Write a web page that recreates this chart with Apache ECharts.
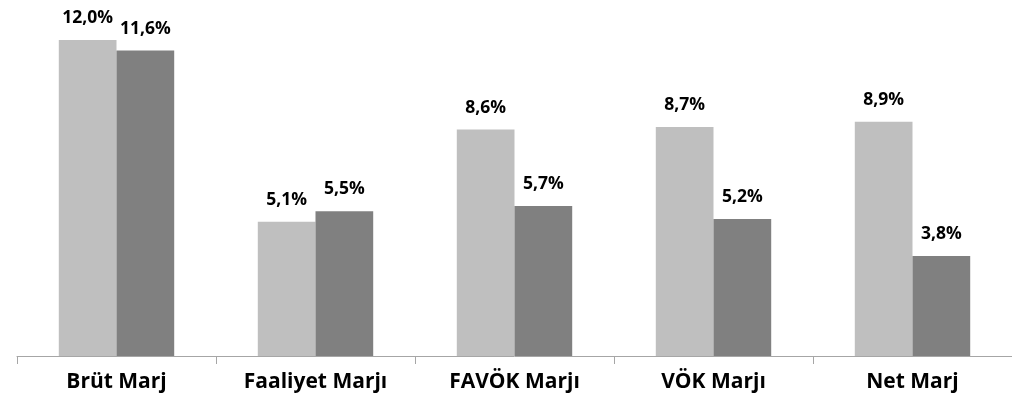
<!DOCTYPE html>
<html>
<head>
<meta charset="utf-8">
<script src="https://cdn.jsdelivr.net/npm/echarts@6/dist/echarts.min.js"></script>
<style>
  html, body { margin: 0; padding: 0; background: #fff; }
  #chart { width: 1012px; height: 408px; }
</style>
</head>
<body>
<div id="chart"></div>
<script>
const categories = ['Brüt Marj', 'Faaliyet Marjı', 'FAVÖK Marjı', 'VÖK Marjı', 'Net Marj']
const seriesLight = [12.0, 5.1, 8.6, 8.7, 8.9]
const seriesDark = [11.6, 5.5, 5.7, 5.2, 3.8]

const chart = echarts.init(document.getElementById('chart'))

const fmt = p => p.value.toFixed(1).replace('.', ',') + '%'
const labelStyle = {
  show: true,
  position: 'top',
  distance: 13,
  formatter: fmt,
  color: '#000',
  fontFamily: 'Open Sans',
  fontWeight: 'bold',
  fontSize: 17.5
}

const option = {
  animation: false,
  grid: { left: 17, right: 0, top: 40, bottom: 52 },
  xAxis: {
    type: 'category',
    data: categories,
    axisLine: { lineStyle: { color: '#a6a6a6', width: 1 } },
    axisTick: { show: true, length: 8, lineStyle: { color: '#a6a6a6' } },
    axisLabel: {
      color: '#000',
      fontFamily: 'Open Sans',
      fontWeight: 'bold',
      fontSize: 21,
      margin: 16
    }
  },
  yAxis: {
    type: 'value',
    min: 0,
    max: 12,
    show: false,
    splitLine: { show: false }
  },
  series: [
    {
      type: 'bar',
      data: seriesLight,
      barGap: '0%',
      barCategoryGap: '42%',
      itemStyle: { color: '#bfbfbf' },
      label: labelStyle
    },
    {
      type: 'bar',
      data: seriesDark,
      itemStyle: { color: '#808080' },
      label: labelStyle
    }
  ]
}

chart.setOption(option)
</script>
</body>
</html>
